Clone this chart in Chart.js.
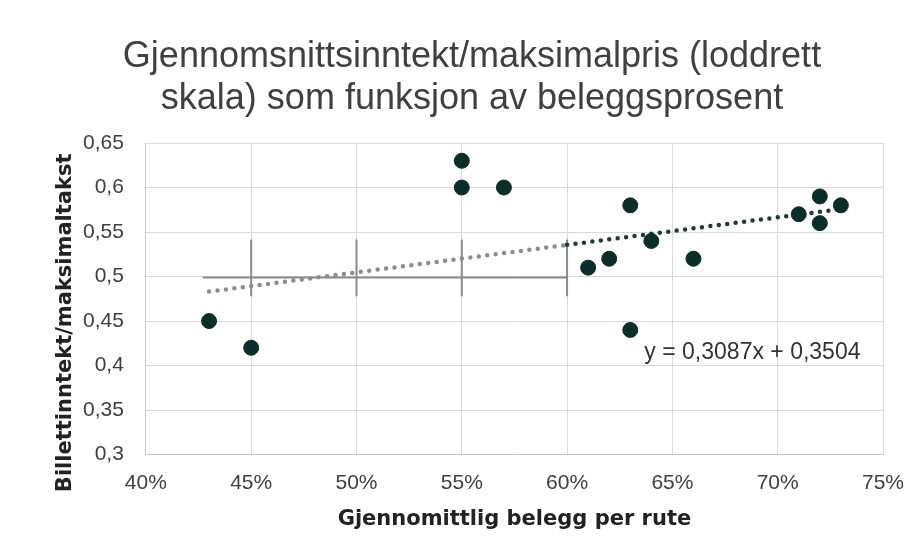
<!DOCTYPE html>
<html>
<head>
<meta charset="utf-8">
<script src="https://cdn.jsdelivr.net/npm/chart.js@4/dist/chart.umd.min.js"></script>
<style>
  html, body { margin: 0; padding: 0; background: #fff; }
  #wrap { width: 924px; height: 556px; }
</style>
</head>
<body>
<div id="wrap"><canvas id="beleggChart" width="924" height="556"></canvas></div>
<script>
// Belegg (x) og billettinntekt/maksimaltakst (y) per rute
const belegg = [0.43, 0.45, 0.55, 0.55, 0.57, 0.61, 0.62, 0.63, 0.63, 0.64, 0.66, 0.71, 0.72, 0.72, 0.73];
const inntektsandel = [0.45, 0.42, 0.63, 0.60, 0.60, 0.51, 0.52, 0.58, 0.44, 0.54, 0.52, 0.57, 0.59, 0.56, 0.58];

// Trendlinje y = 0,3087x + 0,3504 (endepunkter, lest av figuren)
const trendX = [0.43, 0.60, 0.73];
const trendY = [0.4831, 0.5356, 0.5758];
const trendLabel = 'y = 0,3087x + 0,3504';

// Grått kryss-overlegg i den skannede figuren
const crossX = [0.427, 0.60];
const crossY = 0.499;
const crossTickX = [0.45, 0.50, 0.55, 0.60];
const crossTickY = [0.5415, 0.478];

const xTickLabels = ['40%', '45%', '50%', '55%', '60%', '65%', '70%', '75%'];
const yTickLabels = ['0,3', '0,35', '0,4', '0,45', '0,5', '0,55', '0,6', '0,65'];

const fontFam = '"Liberation Sans", Arial, sans-serif';
const boldFam = '"DejaVu Sans", Verdana, sans-serif';
const pointColor = '#0c2e2b';

const points = belegg.map((x, i) => ({ x: x, y: inntektsandel[i] }));
const trendGrey = [{ x: trendX[0], y: trendY[0] }, { x: trendX[1], y: trendY[1] }];
const trendDark = [{ x: trendX[1], y: trendY[1] }, { x: trendX[2], y: trendY[2] }];

const overlayStyle = {
    type: 'line', showLine: true, borderColor: '#8a8a8a', borderWidth: 2,
    pointRadius: 0, fill: false, order: 5
};
const crossSets = [
    Object.assign({ data: crossX.map(x => ({ x: x, y: crossY })) }, overlayStyle)
].concat(crossTickX.map(x => Object.assign({
    data: crossTickY.map(y => ({ x: x, y: y }))
}, overlayStyle)));

// Ligningstekst og loddrett aksetittel
const textPlugin = {
    id: 'texts',
    afterDraw(chart) {
        const ctx = chart.ctx;
        const xs = chart.scales.x, ys = chart.scales.y;
        ctx.save();
        ctx.font = '23px ' + fontFam;
        ctx.fillStyle = '#333';
        ctx.textAlign = 'center';
        ctx.textBaseline = 'middle';
        ctx.fillText(trendLabel, xs.getPixelForValue(0.688), ys.getPixelForValue(0.415));

        const area = chart.chartArea;
        ctx.translate(66, (area.top + area.bottom) / 2 + 24);
        ctx.rotate(-Math.PI / 2);
        ctx.font = 'bold 21px ' + boldFam;
        ctx.fillStyle = '#222';
        ctx.fillText('Billettinntekt/maksimaltakst', 0, 0);
        ctx.restore();
    }
};

const chartConfig = {
    type: 'scatter',
    data: {
        datasets: [
            {
                data: points,
                backgroundColor: pointColor,
                borderColor: pointColor,
                pointRadius: 7.5,
                pointHoverRadius: 7.5,
                order: 1
            },
            {
                type: 'line', data: trendGrey, showLine: true, fill: false,
                borderColor: '#8c8c8c', borderWidth: 4.5, borderDash: [0, 8.5],
                borderCapStyle: 'round', pointRadius: 0, order: 3
            },
            {
                type: 'line', data: trendDark, showLine: true, fill: false,
                borderColor: '#1d3b39', borderWidth: 4.5, borderDash: [0, 8.5],
                borderCapStyle: 'round', pointRadius: 0, order: 2
            }
        ].concat(crossSets)
    },
    options: {
        responsive: false,
        animation: false,
        layout: { padding: { left: 61, right: 41, top: 0, bottom: 24 } },
        plugins: {
            legend: { display: false },
            tooltip: { enabled: false },
            title: {
                display: true,
                text: ['Gjennomsnittsinntekt/maksimalpris (loddrett', 'skala) som funksjon av beleggsprosent'],
                color: '#404040',
                font: { family: fontFam, size: 36, weight: 'normal', lineHeight: 1.1667 },
                padding: { top: 36, bottom: 23 }
            }
        },
        scales: {
            x: {
                type: 'linear', min: 0.4, max: 0.75,
                ticks: {
                    stepSize: 0.05, color: '#404040', padding: 16,
                    font: { family: fontFam, size: 21 },
                    callback: (v, i) => xTickLabels[i]
                },
                grid: { color: '#d9d9d9', drawTicks: false },
                border: { color: '#c8c8c8' },
                title: {
                    display: true, text: 'Gjennomittlig belegg per rute', color: '#222',
                    font: { family: boldFam, size: 21, weight: 'bold' },
                    padding: { top: -5, bottom: 0 }
                }
            },
            y: {
                min: 0.3, max: 0.65,
                ticks: {
                    stepSize: 0.05, color: '#404040', padding: 22,
                    font: { family: fontFam, size: 21 },
                    callback: (v, i) => yTickLabels[i]
                },
                grid: { color: '#d9d9d9', drawTicks: false },
                border: { color: '#c8c8c8' }
            }
        }
    },
    plugins: [textPlugin]
};

const ctx = document.getElementById('beleggChart');
const beleggChart = new Chart(ctx, chartConfig);
</script>
</body>
</html>
